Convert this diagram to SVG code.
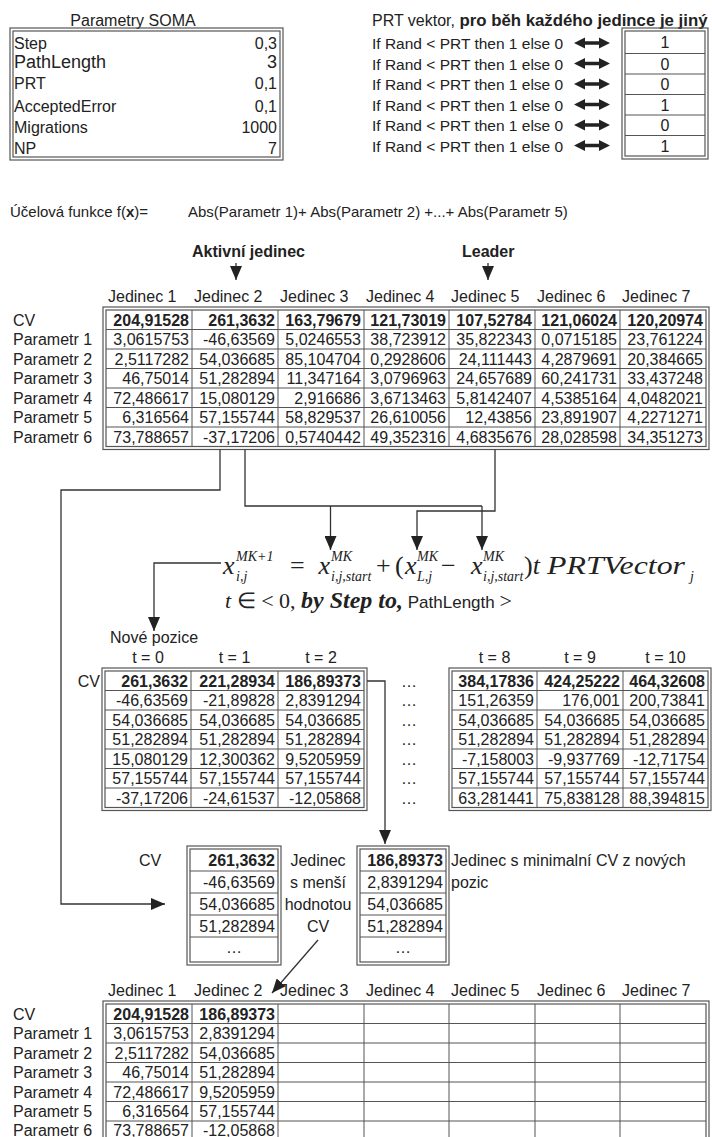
<svg xmlns="http://www.w3.org/2000/svg" width="712" height="1137" viewBox="0 0 712 1137">
<defs>
<style>
text{font-family:"Liberation Sans",Arial,"DejaVu Sans",sans-serif;font-size:16px;fill:#222}
.b{font-weight:bold}
.r{text-anchor:end}
.m{text-anchor:middle}
.s{font-family:"Liberation Serif","Times New Roman",serif}
.i{font-style:italic}
.q{font-size:15.5px}
.fr{fill:none;stroke:#555;stroke-width:1.2}
.gr{fill:none;stroke:#555;stroke-width:1}
.ln{fill:none;stroke:#333;stroke-width:1.3}
.ar{marker-end:url(#ah)}
</style>
<marker id="ah" markerUnits="userSpaceOnUse" markerWidth="14" markerHeight="12" refX="14" refY="6" orient="auto"><path d="M0,0 L14,6 L0,12 z" fill="#222"/></marker>
<path id="dar" d="M0,0 L11,-5.5 L11,-1.8 L25,-1.8 L25,-5.5 L36,0 L25,5.5 L25,1.8 L11,1.8 L11,5.5 Z" fill="#222"/>
</defs>
<rect width="712" height="1137" fill="#fff"/>

<g id="soma-params">
<text class="m" x="133" y="26">Parametry SOMA</text>
<rect class="fr" x="10" y="28" width="273" height="132"/>
<rect class="fr" x="13" y="31" width="267" height="126"/>
<text x="14" y="49">Step</text><text class="r" x="277" y="49">0,3</text>
<text x="14" y="67.5" style="font-size:18px">PathLength</text><text class="r" x="277" y="67.5" style="font-size:18px">3</text>
<text x="14" y="89">PRT</text><text class="r" x="277" y="89">0,1</text>
<text x="14" y="112">AcceptedError</text><text class="r" x="277" y="112">0,1</text>
<text x="14" y="133">Migrations</text><text class="r" x="277" y="133">1000</text>
<text x="14" y="154">NP</text><text class="r" x="277" y="154">7</text>
</g>

<g id="prt-vector">
<text x="372" y="26">PRT vektor, <tspan class="b" style="font-size:16.8px">pro běh každého jedince je jiný</tspan></text>
<rect class="fr" x="622" y="28" width="86" height="131"/>
<rect class="fr" x="625" y="31" width="80" height="125"/>
<path class="gr" d="M625,53.5H705M625,74H705M625,94.5H705M625,115H705M625,135.5H705"/>
<text class="q" x="372" y="49">If Rand &lt; PRT then 1 else 0</text>
<text class="q" x="372" y="69.5">If Rand &lt; PRT then 1 else 0</text>
<text class="q" x="372" y="90">If Rand &lt; PRT then 1 else 0</text>
<text class="q" x="372" y="110.5">If Rand &lt; PRT then 1 else 0</text>
<text class="q" x="372" y="131">If Rand &lt; PRT then 1 else 0</text>
<text class="q" x="372" y="151.5">If Rand &lt; PRT then 1 else 0</text>
<use href="#dar" x="574" y="43"/>
<use href="#dar" x="574" y="63.5"/>
<use href="#dar" x="574" y="84"/>
<use href="#dar" x="574" y="104.5"/>
<use href="#dar" x="574" y="125"/>
<use href="#dar" x="574" y="145.5"/>
<text class="m" x="665" y="48">1</text>
<text class="m" x="665" y="69.5">0</text>
<text class="m" x="665" y="90">0</text>
<text class="m" x="665" y="110.5">1</text>
<text class="m" x="665" y="131">0</text>
<text class="m" x="665" y="151.5">1</text>
</g>

<g id="objective">
<text x="10" y="217" style="font-size:15px">Účelová funkce f(<tspan class="b">x</tspan>)=</text>
<text x="188" y="217" style="font-size:15px">Abs(Parametr 1)+ Abs(Parametr 2) +...+ Abs(Parametr 5)</text>
</g>

<g id="label-active"><text class="b" x="192" y="257">Aktivní jedinec</text></g>
<g id="label-leader"><text class="b" x="462" y="257">Leader</text></g>

<g id="population">
<text y="302"><tspan x="108">Jedinec 1</tspan><tspan x="194">Jedinec 2</tspan><tspan x="280">Jedinec 3</tspan><tspan x="366">Jedinec 4</tspan><tspan x="451">Jedinec 5</tspan><tspan x="537">Jedinec 6</tspan><tspan x="622">Jedinec 7</tspan></text>
<rect class="fr" x="103" y="307" width="606" height="142.5"/>
<rect class="fr" x="106" y="310" width="600" height="136.5"/>
<path class="gr" d="M192,310V446.5M278,310V446.5M364,310V446.5M449,310V446.5M535,310V446.5M620,310V446.5M106,329.5H706M106,349H706M106,368.5H706M106,388H706M106,407.5H706M106,427H706"/>
<text x="13" y="325.5">CV</text>
<text x="13" y="345">Parametr 1</text>
<text x="13" y="364.5">Parametr 2</text>
<text x="13" y="384">Parametr 3</text>
<text x="13" y="403.5">Parametr 4</text>
<text x="13" y="423">Parametr 5</text>
<text x="13" y="442.5">Parametr 6</text>
<text class="r b" y="325.5"><tspan x="189">204,91528</tspan><tspan x="275">261,3632</tspan><tspan x="361">163,79679</tspan><tspan x="446">121,73019</tspan><tspan x="532">107,52784</tspan><tspan x="617">121,06024</tspan><tspan x="703">120,20974</tspan></text>
<text class="r" y="345"><tspan x="189">3,0615753</tspan><tspan x="275">-46,63569</tspan><tspan x="361">5,0246553</tspan><tspan x="446">38,723912</tspan><tspan x="532">35,822343</tspan><tspan x="617">0,0715185</tspan><tspan x="703">23,761224</tspan></text>
<text class="r" y="364.5"><tspan x="189">2,5117282</tspan><tspan x="275">54,036685</tspan><tspan x="361">85,104704</tspan><tspan x="446">0,2928606</tspan><tspan x="532">24,111443</tspan><tspan x="617">4,2879691</tspan><tspan x="703">20,384665</tspan></text>
<text class="r" y="384"><tspan x="189">46,75014</tspan><tspan x="275">51,282894</tspan><tspan x="361">11,347164</tspan><tspan x="446">3,0796963</tspan><tspan x="532">24,657689</tspan><tspan x="617">60,241731</tspan><tspan x="703">33,437248</tspan></text>
<text class="r" y="403.5"><tspan x="189">72,486617</tspan><tspan x="275">15,080129</tspan><tspan x="361">2,916686</tspan><tspan x="446">3,6713463</tspan><tspan x="532">5,8142407</tspan><tspan x="617">4,5385164</tspan><tspan x="703">4,0482021</tspan></text>
<text class="r" y="423"><tspan x="189">6,316564</tspan><tspan x="275">57,155744</tspan><tspan x="361">58,829537</tspan><tspan x="446">26,610056</tspan><tspan x="532">12,43856</tspan><tspan x="617">23,891907</tspan><tspan x="703">4,2271271</tspan></text>
<text class="r" y="442.5"><tspan x="189">73,788657</tspan><tspan x="275">-37,17206</tspan><tspan x="361">0,5740442</tspan><tspan x="446">49,352316</tspan><tspan x="532">4,6835676</tspan><tspan x="617">28,028598</tspan><tspan x="703">34,351273</tspan></text>
</g>

<g id="formula">
<text class="s i" x="223" y="574" style="font-size:26px">x</text>
<text class="s i" x="236" y="561" style="font-size:14px">MK+1</text>
<text class="s i" x="236" y="581" style="font-size:14px">i,j</text>
<text class="s" x="290" y="574" style="font-size:26px">=</text>
<text class="s i" x="318.5" y="574" style="font-size:26px">x</text>
<text class="s i" x="331" y="561" style="font-size:14px">MK</text>
<text class="s i" x="331" y="581" style="font-size:14px">i,j,start</text>
<text class="s" x="376" y="574" style="font-size:26px">+</text>
<text class="s" x="395" y="574" style="font-size:26px">(</text>
<text class="s i" x="405" y="574" style="font-size:26px">x</text>
<text class="s i" x="417" y="561" style="font-size:14px">MK</text>
<text class="s i" x="417" y="581" style="font-size:14px">L,j</text>
<text class="s" x="441" y="574" style="font-size:26px">−</text>
<text class="s i" x="471" y="574" style="font-size:26px">x</text>
<text class="s i" x="483" y="561" style="font-size:14px">MK</text>
<text class="s i" x="483" y="581" style="font-size:14px">i,j,start</text>
<text class="s" x="524" y="574" style="font-size:26px">)<tspan class="i">t</tspan></text>
<text class="s i" x="547" y="574" style="font-size:26px" textLength="138" lengthAdjust="spacingAndGlyphs">PRTVector</text>
<text class="s i" x="690" y="581" style="font-size:14px">j</text>
<text class="s" x="225" y="608" style="font-size:22px"><tspan class="i">t</tspan> ∈ &lt; 0, <tspan class="i b" style="font-size:24px">by Step to,</tspan><tspan style="font-family:'Liberation Sans',Arial,sans-serif;font-size:17px"> PathLength </tspan>&gt;</text>
</g>

<g id="new-positions">
<text x="110" y="643">Nové pozice</text>
<text class="m" y="663"><tspan x="148">t = 0</tspan><tspan x="234.5">t = 1</tspan><tspan x="321">t = 2</tspan></text>
<rect class="fr" x="102" y="668" width="265" height="142.5"/>
<rect class="fr" x="105" y="671" width="259" height="136.5"/>
<path class="gr" d="M191,671V807.5M278,671V807.5M105,690.5H364M105,710H364M105,729.5H364M105,749H364M105,768.5H364M105,788H364"/>
<text class="r" x="100" y="686.5">CV</text>
<text class="r b" y="686.5"><tspan x="188">261,3632</tspan><tspan x="275">221,28934</tspan><tspan x="361">186,89373</tspan></text>
<text class="r" y="706"><tspan x="188">-46,63569</tspan><tspan x="275">-21,89828</tspan><tspan x="361">2,8391294</tspan></text>
<text class="r" y="725.5"><tspan x="188">54,036685</tspan><tspan x="275">54,036685</tspan><tspan x="361">54,036685</tspan></text>
<text class="r" y="745"><tspan x="188">51,282894</tspan><tspan x="275">51,282894</tspan><tspan x="361">51,282894</tspan></text>
<text class="r" y="764.5"><tspan x="188">15,080129</tspan><tspan x="275">12,300362</tspan><tspan x="361">9,5205959</tspan></text>
<text class="r" y="784"><tspan x="188">57,155744</tspan><tspan x="275">57,155744</tspan><tspan x="361">57,155744</tspan></text>
<text class="r" y="803.5"><tspan x="188">-37,17206</tspan><tspan x="275">-24,61537</tspan><tspan x="361">-12,05868</tspan></text>
</g>

<g id="ellipsis-column">
<text class="m" x="409" y="686.5">…</text>
<text class="m" x="409" y="706">…</text>
<text class="m" x="409" y="725.5">…</text>
<text class="m" x="409" y="745">…</text>
<text class="m" x="409" y="764.5">…</text>
<text class="m" x="409" y="784">…</text>
<text class="m" x="409" y="803.5">…</text>
</g>

<g id="new-positions-end">
<text class="m" y="663"><tspan x="494.5">t = 8</tspan><tspan x="580">t = 9</tspan><tspan x="665.5">t = 10</tspan></text>
<rect class="fr" x="449" y="668" width="262" height="142.5"/>
<rect class="fr" x="452" y="671" width="256" height="136.5"/>
<path class="gr" d="M537,671V807.5M623,671V807.5M452,690.5H708M452,710H708M452,729.5H708M452,749H708M452,768.5H708M452,788H708"/>
<text class="r b" y="686.5"><tspan x="534">384,17836</tspan><tspan x="620">424,25222</tspan><tspan x="705">464,32608</tspan></text>
<text class="r" y="706"><tspan x="534">151,26359</tspan><tspan x="620">176,001</tspan><tspan x="705">200,73841</tspan></text>
<text class="r" y="725.5"><tspan x="534">54,036685</tspan><tspan x="620">54,036685</tspan><tspan x="705">54,036685</tspan></text>
<text class="r" y="745"><tspan x="534">51,282894</tspan><tspan x="620">51,282894</tspan><tspan x="705">51,282894</tspan></text>
<text class="r" y="764.5"><tspan x="534">-7,158003</tspan><tspan x="620">-9,937769</tspan><tspan x="705">-12,71754</tspan></text>
<text class="r" y="784"><tspan x="534">57,155744</tspan><tspan x="620">57,155744</tspan><tspan x="705">57,155744</tspan></text>
<text class="r" y="803.5"><tspan x="534">63,281441</tspan><tspan x="620">75,838128</tspan><tspan x="705">88,394815</tspan></text>
</g>

<g id="active-individual">
<text class="m" x="150" y="865.5">CV</text>
<rect class="fr" x="187" y="846" width="94" height="119"/>
<rect class="fr" x="190" y="849" width="88" height="113"/>
<path class="gr" d="M190,871H278M190,893H278M190,915H278M190,937H278"/>
<text class="r b" x="275" y="865.5">261,3632</text>
<text class="r" x="275" y="887.5">-46,63569</text>
<text class="r" x="275" y="909.5">54,036685</text>
<text class="r" x="275" y="931.5">51,282894</text>
<text class="m" x="234" y="953">…</text>
</g>

<g id="label-smaller">
<text class="m" x="318" y="865.5">Jedinec</text>
<text class="m" x="318" y="887.5">s menší</text>
<text class="m" x="318" y="909.5">hodnotou</text>
<text class="m" x="318" y="931.5">CV</text>
</g>

<g id="best-new">
<rect class="fr" x="357" y="846" width="92" height="119"/>
<rect class="fr" x="360" y="849" width="86" height="113"/>
<path class="gr" d="M360,871H446M360,893H446M360,915H446M360,937H446"/>
<text class="r b" x="443" y="865.5">186,89373</text>
<text class="r" x="443" y="887.5">2,8391294</text>
<text class="r" x="443" y="909.5">54,036685</text>
<text class="r" x="443" y="931.5">51,282894</text>
<text class="m" x="403" y="953">…</text>
<text x="451" y="865.5">Jedinec s minimalní CV z nových</text>
<text x="451" y="887.5">pozic</text>
</g>

<g id="next-population">
<text y="996"><tspan x="108">Jedinec 1</tspan><tspan x="194">Jedinec 2</tspan><tspan x="280">Jedinec 3</tspan><tspan x="366">Jedinec 4</tspan><tspan x="451">Jedinec 5</tspan><tspan x="537">Jedinec 6</tspan><tspan x="622">Jedinec 7</tspan></text>
<rect class="fr" x="103" y="1001" width="606" height="142.5"/>
<rect class="fr" x="106" y="1004" width="600" height="136.5"/>
<path class="gr" d="M192,1004V1140.5M278,1004V1140.5M364,1004V1140.5M449,1004V1140.5M535,1004V1140.5M620,1004V1140.5M106,1023.5H706M106,1043H706M106,1062.5H706M106,1082H706M106,1101.5H706M106,1121H706"/>
<text x="13" y="1019.5">CV</text>
<text x="13" y="1039">Parametr 1</text>
<text x="13" y="1058.5">Parametr 2</text>
<text x="13" y="1078">Parametr 3</text>
<text x="13" y="1097.5">Parametr 4</text>
<text x="13" y="1117">Parametr 5</text>
<text x="13" y="1136">Parametr 6</text>
<text class="r b" y="1019.5"><tspan x="189">204,91528</tspan><tspan x="275">186,89373</tspan></text>
<text class="r" y="1039"><tspan x="189">3,0615753</tspan><tspan x="275">2,8391294</tspan></text>
<text class="r" y="1058.5"><tspan x="189">2,5117282</tspan><tspan x="275">54,036685</tspan></text>
<text class="r" y="1078"><tspan x="189">46,75014</tspan><tspan x="275">51,282894</tspan></text>
<text class="r" y="1097.5"><tspan x="189">72,486617</tspan><tspan x="275">9,5205959</tspan></text>
<text class="r" y="1117"><tspan x="189">6,316564</tspan><tspan x="275">57,155744</tspan></text>
<text class="r" y="1136"><tspan x="189">73,788657</tspan><tspan x="275">-12,05868</tspan></text>
</g>

<g id="connectors">
<path class="ln ar" d="M236,263V280"/>
<path class="ln ar" d="M488,263V280"/>
<path class="ln ar" d="M220,449.5V490H61V904H165"/>
<path class="ln" d="M245,449.5V506H482"/>
<path class="ln ar" d="M482,506V550"/>
<path class="ln ar" d="M330.5,506V550"/>
<path class="ln ar" d="M495,449.5V511H417V550"/>
<path class="ln ar" d="M221,563H154V631"/>
<path class="ln ar" d="M367,681H385V844"/>
<path class="ln ar" d="M318,940L272,993"/>
</g>
</svg>
